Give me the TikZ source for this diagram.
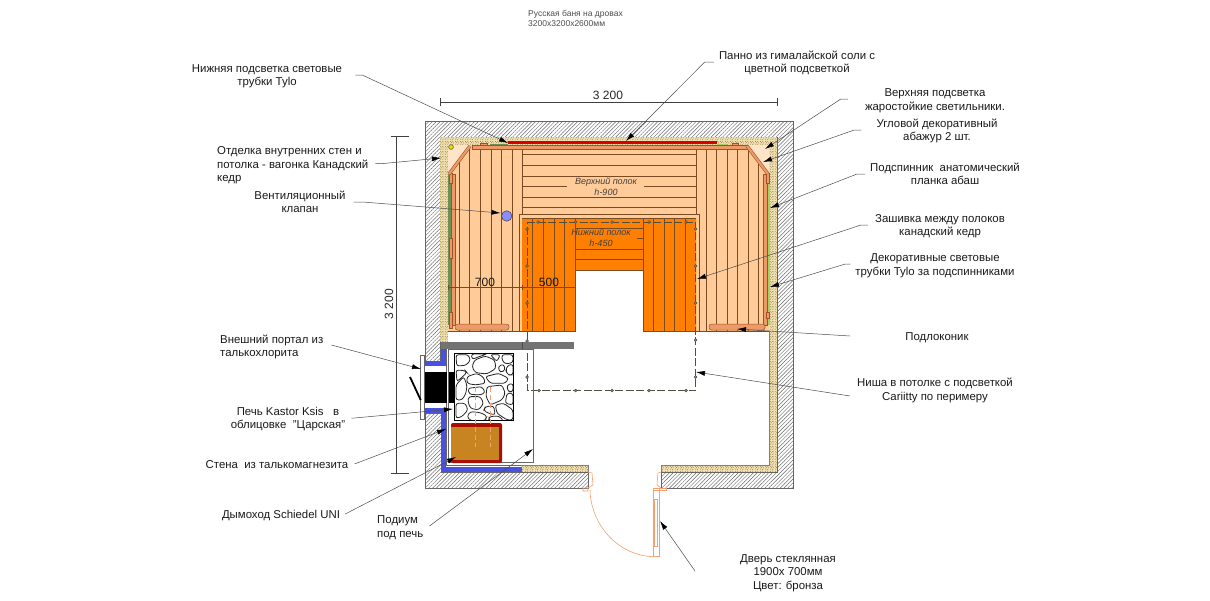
\documentclass[tikz,border=0pt]{standalone}
\usepackage{fontspec}
\setmainfont{Liberation Sans}
\usetikzlibrary{arrows.meta,patterns,patterns.meta,positioning}
\definecolor{slatline}{HTML}{7A4A20}
\definecolor{lightwood}{HTML}{FFCC99}
\definecolor{cornerwood}{HTML}{FFE4C8}
\definecolor{deepwood}{HTML}{FF8000}
\definecolor{backrest}{HTML}{EE9A66}
\definecolor{backline}{HTML}{A0522D}
\definecolor{insulbase}{HTML}{F0E0B0}
\definecolor{speckdark}{HTML}{6E5A30}
\definecolor{stripdark}{HTML}{6F8F55}
\definecolor{striplight}{HTML}{A8D060}
\definecolor{chimney}{HTML}{4A50E0}
\definecolor{tiledark}{HTML}{A80F00}
\definecolor{tilefill}{HTML}{C88420}
\definecolor{doorline}{HTML}{F5A070}
\definecolor{nicheline}{HTML}{505040}
\pgfdeclarepatternformonly{speck}{\pgfqpoint{0pt}{0pt}}{\pgfqpoint{5pt}{5pt}}{\pgfqpoint{5pt}{5pt}}{%
\pgfpathcircle{\pgfqpoint{0.8pt}{1pt}}{0.5pt}
\pgfpathcircle{\pgfqpoint{3.2pt}{0.5pt}}{0.4pt}
\pgfpathcircle{\pgfqpoint{2pt}{2.6pt}}{0.5pt}
\pgfpathcircle{\pgfqpoint{4.3pt}{2.3pt}}{0.45pt}
\pgfpathcircle{\pgfqpoint{0.6pt}{4pt}}{0.4pt}
\pgfpathcircle{\pgfqpoint{3.2pt}{4.2pt}}{0.5pt}
\pgfusepath{fill}}
\begin{document}
\begin{tikzpicture}[x=1pt,y=-1pt]
\tikzstyle{every node}+=[inner sep=0pt]
\tikzstyle{label}=[font=\fontsize{11.4}{13.5}\selectfont,text=black!90,align=center]
\tikzstyle{leader}=[draw=black!70,line width=0.5pt,-{Latex[black,length=9pt,width=5pt]}]
\tikzstyle{dimen}=[draw=black!75,line width=0.6pt]
\tikzstyle{wall}=[draw=black!60,line width=0.6pt,pattern={Lines[angle=45,distance=2.7pt,line width=0.45pt]},pattern color=black!60]
\tikzstyle{insul}=[preaction={fill=insulbase},pattern=speck,pattern color=speckdark]
\tikzstyle{slat}=[draw=slatline,line width=0.8pt]
\tikzstyle{back}=[fill=backrest,draw=backline,line width=0.5pt]
\tikzstyle{blue}=[fill=chimney]
\tikzstyle{niche}=[draw=nicheline,line width=0.7pt,dash pattern=on 8pt off 2.5pt]
\tikzstyle{nichedot}=[fill=nicheline!60!lightwood,draw=nicheline,line width=0.5pt]
\tikzstyle{stone}=[fill=white,draw=black!85,line width=0.8pt,rounded corners=2.5pt]
\tikzstyle{door}=[draw=doorline,line width=0.6pt]
\useasboundingbox (0,0) rectangle (1210,600);
% walls
\draw [wall] (425,121) -- (793,121) -- (793,488) -- (661,488) -- (661,472) -- (777,472) -- (777,137) -- (440,137) -- (440,361) -- (425,361) -- cycle;
\draw [wall] (425,413) -- (441,413) -- (441,472) -- (588,472) -- (588,488) -- (425,488) -- cycle;
% insulation
\fill [insul] (440,137) rectangle (777,145);
\fill [insul] (440,137) rectangle (448,342);
\fill [insul] (769,137) rectangle (777,472);
\fill [insul] (521,465) rectangle (588,472);
\fill [insul] (661,465) rectangle (777,472);
\draw [black!50,line width=0.4pt] (521,465) -- (588,465) -- (588,472);
\draw [black!50,line width=0.4pt] (661,472) -- (661,465) -- (769,465) -- (769,331);
% upper shelf
\fill [lightwood] (448,145) -- (769,145) -- (769,331) -- (699,331) -- (699,214) -- (519,214) -- (519,331) -- (448,331) -- cycle;
\fill [cornerwood] (448,145) -- (470,145) -- (449,174) -- (448,174) -- cycle;
\fill [cornerwood] (769,145) -- (747,145) -- (768,174) -- (769,174) -- cycle;
\draw [slat] (459,160) -- (459,331);
\draw [slat] (469,149) -- (469,331);
\draw [slat] (480,147) -- (480,331);
\draw [slat] (491,147) -- (491,331);
\draw [slat] (501,147) -- (501,331);
\draw [slat] (512,147) -- (512,331);
\draw [slat] (522,147) -- (522,214);
\draw [slat] (696,147) -- (696,214);
\draw [slat] (706,147) -- (706,331);
\draw [slat] (716,147) -- (716,331);
\draw [slat] (727,147) -- (727,331);
\draw [slat] (737,147) -- (737,331);
\draw [slat] (748,149) -- (748,331);
\draw [slat] (758,160) -- (758,331);
\draw [slat] (522,154) -- (696,154);
\draw [slat] (522,165) -- (696,165);
\draw [slat] (522,176) -- (696,176);
\draw [slat] (522,186) -- (567,186);
\draw [slat] (644,186) -- (696,186);
\draw [slat] (522,197) -- (696,197);
\draw [slat] (522,207) -- (696,207);
\draw [slat] (448,331) -- (519,331);
\draw [slat] (699,331) -- (769,331);
% lower shelf
\draw [slat,fill=lightwood] (519,331) -- (519,214) -- (699,214) -- (699,331) -- cycle;
\fill [white] (575.5,271) rectangle (642.5,332);
\fill [deepwood] (522,218) -- (696,218) -- (696,331) -- (643,331) -- (643,270) -- (575,270) -- (575,331) -- (522,331) -- cycle;
\draw [slat] (522,218) -- (696,218);
\draw [slat] (532,218) -- (532,331);
\draw [slat] (543,218) -- (543,331);
\draw [slat] (554,218) -- (554,331);
\draw [slat] (564,218) -- (564,331);
\draw [slat] (575,218) -- (575,331);
\draw [slat] (643,218) -- (643,331);
\draw [slat] (653,218) -- (653,331);
\draw [slat] (664,218) -- (664,331);
\draw [slat] (674,218) -- (674,331);
\draw [slat] (685,218) -- (685,331);
\draw [slat] (575,228) -- (643,228);
\draw [slat] (637,238) -- (643,238);
\draw [slat] (575,249) -- (643,249);
\draw [slat] (575,259) -- (643,259);
\draw [slat] (575,270) -- (643,270);
\draw [slat] (519,331) -- (575,331);
\draw [slat] (643,331) -- (699,331);
\node (uppershelf) at (606,186.5) [font=\fontsize{9}{11}\selectfont\itshape,text=black!75,align=center] {Верхний полок\\h-900};
\node (lowershelf) at (601,238) [font=\fontsize{9}{11}\selectfont\itshape,text=black!75,align=center] {Нижний полок\\h-450};
% backrests and light strips
\fill [stripdark] (448.3,174) rectangle (451,325);
\fill [striplight] (768,174) rectangle (769.5,325);
\draw [stripdark,line width=1pt] (490,144.3) -- (508,144.3);
\draw [striplight,line width=1pt] (717,144.3) -- (727,144.3);
\fill [red!85!black] (508,141) rectangle (717,144);
\draw [back] (472,145.5) rectangle (747,149);
\draw [back] (451,174) rectangle (455,325);
\draw [back] (763,174) rectangle (767,325);
\draw [back] (449,173) rectangle (452,183);
\draw [back] (449,238) rectangle (452,258);
\draw [back] (449,312) rectangle (452,328);
\draw [back] (766,173) rectangle (769,183);
\draw [back] (766,312) rectangle (769,318);
\draw [back] (480,143) rectangle (487,145.5);
\draw [back] (732,143) rectangle (738,145.5);
\draw [backline,line width=3.4pt] (470,146) -- (449,174);
\draw [backrest,line width=2.2pt] (470,146) -- (449,174);
\draw [backline,line width=3.4pt] (747,146) -- (768,174);
\draw [backrest,line width=2.2pt] (747,146) -- (768,174);
\draw [back,rounded corners=2.5pt] (455,324) rectangle (509,330);
\draw [back,rounded corners=2.5pt] (709,324) rectangle (765,330);
\draw [black!70,line width=0.5pt,fill=yellow!80!olive] (451,147) circle (2.4);
\draw [black!70,line width=0.6pt,fill=blue!45!white] (506.7,216) circle (5.2);
% niche
\draw [niche] (527,222) -- (695.5,222) -- (695.5,390.5) -- (527,390.5) -- cycle;
\draw [nichedot] (538,222) circle (1.4);
\draw [nichedot] (575.6,222) circle (1.4);
\draw [nichedot] (612,222) circle (1.4);
\draw [nichedot] (649,222) circle (1.4);
\draw [nichedot] (686,222) circle (1.4);
\draw [nichedot] (527,229) circle (1.4);
\draw [nichedot] (527,266) circle (1.4);
\draw [nichedot] (527,303) circle (1.4);
\draw [nichedot] (527,341) circle (1.4);
\draw [nichedot] (527,377) circle (1.4);
\draw [nichedot] (695.5,229) circle (1.4);
\draw [nichedot] (695.5,266) circle (1.4);
\draw [nichedot] (695.5,303) circle (1.4);
\draw [nichedot] (695.5,340) circle (1.4);
\draw [nichedot] (695.5,377) circle (1.4);
\draw [nichedot] (539,390.5) circle (1.4);
\draw [nichedot] (575.7,390.5) circle (1.4);
\draw [nichedot] (612,390.5) circle (1.4);
\draw [nichedot] (649,390.5) circle (1.4);
\draw [nichedot] (686,390.5) circle (1.4);
% stove
\draw [black!60,line width=0.6pt] (448,349) -- (533,349) -- (533,462.7) -- (448,462.7) -- cycle;
\draw [black!60,line width=0.6pt] (446,349) -- (446,465) -- (521,465);
\fill [black!55] (441,342) rectangle (574,349);
\draw [black!70,line width=0.4pt] (522,342) -- (522,349);
\fill [blue] (441,349) rectangle (446,366);
\fill [blue] (425,361) rectangle (441,366);
\fill [blue] (425,408) rectangle (441,413);
\fill [blue] (441,408) rectangle (446,472.5);
\fill [blue] (441,467) rectangle (521,472.5);
\draw [black!60,line width=0.5pt] (441,472.5) -- (521,472.5) -- (521,467);
\fill [black] (425,371.5) rectangle (446.5,403);
\fill [black] (448.5,371.5) rectangle (454,403);
\draw [black!60,fill=white,line width=0.5pt] (420,355) rectangle (424.5,419);
\draw [black,line width=1.8pt] (410,377) -- (420.7,400);
\begin{scope}[shift={(452,350)},x=0.333pt,y=-0.333pt]
\clip (8,10) rectangle (185,212);
\fill [white] (8,10) rectangle (185,212);
\draw [stone] (12,14) -- (48,14) -- (56,30) -- (42,46) -- (14,48) -- cycle;
\draw [stone] (68,30) -- (100,18) -- (128,30) -- (132,55) -- (105,72) -- (70,68) -- (60,50) -- cycle;
\draw [stone] (58,12) -- (105,12) -- (90,17) -- (60,28) -- cycle;
\draw [stone] (115,14) -- (145,14) -- (135,35) -- cycle;
\draw [stone] (150,14) -- (183,14) -- (183,38) -- (160,42) -- (150,30) -- cycle;
\draw [stone] (138,50) -- (155,42) -- (160,60) -- (145,68) -- cycle;
\draw [stone] (165,48) -- (183,42) -- (183,75) -- (168,75) -- (162,62) -- cycle;
\draw [stone] (100,80) -- (140,70) -- (170,85) -- (160,100) -- (115,100) -- cycle;
\draw [stone] (45,80) -- (75,70) -- (95,82) -- (100,100) -- (70,105) -- (45,100) -- cycle;
\draw [stone] (12,60) -- (40,62) -- (45,68) -- (15,95) -- cycle;
\draw [stone] (12,105) -- (35,80) -- (45,105) -- (42,130) -- (30,150) -- (12,150) -- cycle;
\draw [stone] (48,115) -- (90,110) -- (100,128) -- (85,135) -- (52,133) -- cycle;
\draw [stone] (50,140) -- (85,140) -- (95,160) -- (80,180) -- (55,175) -- (48,155) -- cycle;
\draw [stone] (105,110) -- (150,105) -- (160,130) -- (150,150) -- (115,165) -- (102,140) -- cycle;
\draw [stone] (165,105) -- (183,100) -- (183,125) -- (168,125) -- cycle;
\draw [stone] (165,130) -- (183,130) -- (183,165) -- (160,160) -- cycle;
\draw [stone] (130,165) -- (155,160) -- (183,180) -- (183,210) -- (165,210) -- (135,190) -- cycle;
\draw [stone] (100,170) -- (125,168) -- (130,195) -- (110,190) -- (95,182) -- cycle;
\draw [stone] (12,160) -- (40,160) -- (48,180) -- (30,200) -- (12,205) -- cycle;
\draw [stone] (55,185) -- (85,188) -- (105,198) -- (100,212) -- (55,212) -- (45,200) -- cycle;
\draw [stone] (112,200) -- (140,198) -- (155,212) -- (110,212) -- cycle;
\end{scope}
\draw [black,line width=0.7pt] (454.7,353.3) rectangle (513.7,420.7);
\draw [fill=tiledark,draw=none,rounded corners=2pt] (451,423) rectangle (502,463);
\fill [tilefill] (451,427) rectangle (499,460);
\draw [doorline,dash pattern=on 5pt off 3pt,line width=0.6pt] (475.7,387) -- (475.7,447);
\draw [doorline,dash pattern=on 5pt off 3pt,line width=0.6pt] (490.7,387) -- (490.7,447);
% door
\coordinate (doorhinge) at (590,490);
\coordinate (doorfoot) at (654,556.7);
\draw [door] (653.7,488) rectangle (659,556.7);
\draw [door] (654.3,499) rectangle (657.3,546.7);
\draw [door] (653.7,488) rectangle (666,490.7);
\draw [door] (doorhinge) .. controls (591,526) and (619,556) .. (doorfoot);
\draw [door] (588,472) -- (592,473) -- (593,485) -- (588,488) -- (588,491) -- (583,491) -- (583,488) -- (588,488);
\draw [door] (661,472) -- (658,473) -- (657,485) -- (661,488);
% dimensions
\coordinate (dimtopa) at (440,102);
\coordinate (dimtopb) at (777,102);
\draw [dimen] (dimtopa) -- (dimtopb);
\draw [dimen] (440,98) -- (440,106);
\draw [dimen] (777,98) -- (777,106);
\node (dimtop) at (608,95.5) [font=\fontsize{12}{14}\selectfont,text=black!85] {3 200};
\coordinate (dimlefta) at (396,136);
\coordinate (dimleftb) at (396,473);
\draw [dimen] (dimlefta) -- (dimleftb);
\draw [dimen] (391,136) -- (409,136);
\draw [dimen] (391,473) -- (409,473);
\node (dimleft) at (389,304) [font=\fontsize{12}{14}\selectfont,text=black!85,rotate=90] {3 200};
\coordinate (dimina) at (448,287);
\coordinate (diminb) at (522,287);
\coordinate (diminc) at (575,287);
\draw [slat,line width=0.6pt] (dimina) -- (diminc);
\draw [slat,line width=0.6pt] (448,284.5) -- (448,289.5);
\draw [slat,line width=0.6pt] (522,284.5) -- (522,289.5);
\draw [slat,line width=0.6pt] (575,284.5) -- (575,289.5);
\node (dimback) at (485,282) [font=\fontsize{12}{14}\selectfont,text=black!90] {700};
\node (dimseat) at (549,282) [font=\fontsize{12}{14}\selectfont,text=black!90] {500};
% labels
\node (title) at (528,18) [anchor=west,font=\fontsize{8.5}{10}\selectfont,text=black!70,align=left] {Русская баня на дровах\\3200х3200х2600мм};
\node [label] (lowlight) at (267,76.5) {Нижняя подсветка световые\\трубки Tylo};
\node [label,anchor=west,align=left] (lining) at (217,165.5) {Отделка внутренних стен и\\потолка - вагонка Канадский\\кедр};
\node [label] (valve) at (300,202) {Вентиляционный\\клапан};
\node [label,anchor=west,align=left] (portal) at (220,347) {Внешний портал из\\талькохлорита};
\node [label] (stove) at (288,419) {Печь Kastor Ksis~~~в\\облицовке~~"Царская"};
\node [label] (tilewall) at (277,465) {Стена~~из талькомагнезита};
\node [label] (flue) at (281,515) {Дымоход Schiedel UNI};
\node [label,anchor=west,align=left] (podium) at (377,527.5) {Подиум\\под печь};
\node [label] (saltpanel) at (797,63) {Панно из гималайской соли с\\цветной подсветкой};
\node [label] (toplight) at (935,101) {Верхняя подсветка\\жаростойкие светильники.};
\node [label] (cornershade) at (937,131) {Угловой декоративный\\абажур 2 шт.};
\node [label] (headrest) at (945,174) {Подспинник~~анатомический\\планка абаш};
\node [label] (panelling) at (940,226) {Зашивка между полоков\\канадский кедр};
\node [label] (tubes) at (935,266) {Декоративные световые\\трубки Tylo за подспинниками};
\node [label] (sill) at (937,338) {Подлоконик};
\node [label] (ceilniche) at (935,390.5) {Ниша в потолке с подсветкой\\Cariitty по перимеру};
\node [label] (glassdoor) at (788,573) {Дверь стеклянная\\1900х 700мм\\Цвет: бронза};
% leader targets
\coordinate (lowlightT) at (508,143);
\coordinate (liningT) at (441,158);
\coordinate (valveT) at (500.5,213);
\coordinate (portalT) at (421,369);
\coordinate (stoveT) at (453,409);
\coordinate (tilewallT) at (446,429);
\coordinate (flueT) at (456,457);
\coordinate (podiumT) at (533,449);
\coordinate (saltpanelT) at (626,141);
\coordinate (toplightT) at (765,149);
\coordinate (cornershadeT) at (763,162);
\coordinate (headrestT) at (770,208);
\coordinate (panellingT) at (697,279);
\coordinate (tubesT) at (770,287);
\coordinate (sillT) at (737,329);
\coordinate (ceilnicheT) at (696,372);
\coordinate (glassdoorT) at (660,521);
% leaders
\draw [leader] ([xshift=13pt,yshift=1.5pt]lowlight.east) -- ++(7,0) -- (lowlightT);
\draw [leader] ([xshift=7pt,yshift=2pt]lining.east) -- ++(8,0) -- (liningT);
\draw [leader] ([xshift=8pt]valve.east) -- ++(9,0) -- (valveT);
\draw [leader] ([xshift=8pt,yshift=2pt]portal.east) -- (portalT);
\draw [leader] ([xshift=6pt,yshift=1pt]stove.east) -- ++(3,0) -- (stoveT);
\draw [leader] ([xshift=6pt,yshift=1pt]tilewall.east) -- (tilewallT);
\draw [leader] ([xshift=5pt,yshift=1pt]flue.east) -- (flueT);
\draw [leader] ([xshift=6pt,yshift=1.5pt]podium.east) -- (podiumT);
\draw [leader] ([xshift=-5pt,yshift=1pt]saltpanel.west) -- ++(-9,0) -- (saltpanelT);
\draw [leader] ([xshift=-17pt,yshift=2pt]toplight.west) -- ++(-7,0) -- (toplightT);
\draw [leader] ([xshift=-15pt,yshift=1pt]cornershade.west) -- ++(-7,0) -- (cornershadeT);
\draw [leader] ([xshift=-5pt]headrest.west) -- ++(-8,0) -- (headrestT);
\draw [leader] ([xshift=-7pt,yshift=1pt]panelling.west) -- ++(-7,0) -- (panellingT);
\draw [leader] ([xshift=-5pt,yshift=2pt]tubes.west) -- ++(-5,0) -- (tubesT);
\draw [leader] ([xshift=-55pt,yshift=2pt]sill.west) -- (sillT);
\draw [leader] ([xshift=-7pt,yshift=-5.5pt]ceilniche.west) -- (ceilnicheT);
\draw [leader] ([xshift=-45pt,yshift=2pt]glassdoor.west) -- (glassdoorT);
\end{tikzpicture}
\end{document}
